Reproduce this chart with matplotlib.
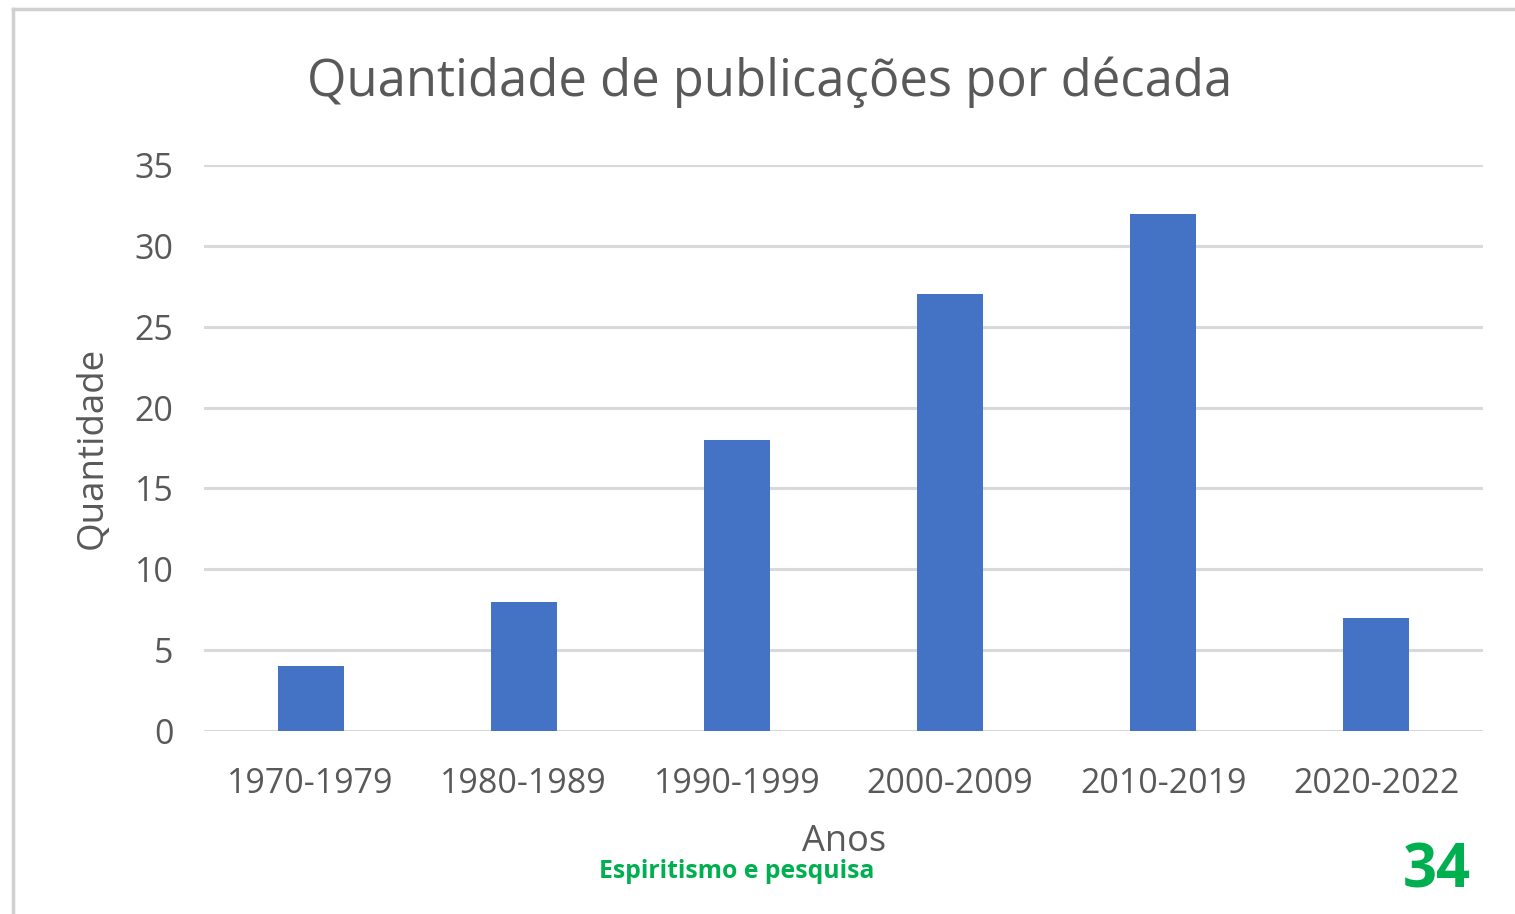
import matplotlib.pyplot as plt
from matplotlib.lines import Line2D

decadas = ['1970-1979', '1980-1989', '1990-1999', '2000-2009', '2010-2019', '2020-2022']
quantidade = [4, 8, 18, 27, 32, 7]
yticks = [0, 5, 10, 15, 20, 25, 30, 35]

plt.rcParams['font.family'] = ['Open Sans', 'DejaVu Sans']
cinza = '#595959'

W, H = 1515, 914
fig = plt.figure(figsize=(W / 100, H / 100), dpi=100)
ax = fig.add_axes([204 / W, 1 - 731 / H, (1483 - 204) / W, (731 - 165) / H])

x = range(len(decadas))
ax.bar(x, quantidade, width=0.31, color='#4472C4', zorder=3)
ax.set_xlim(-0.5, len(decadas) - 0.5)
ax.set_ylim(0, 35)
ax.set_yticks(yticks)
ax.set_xticks(list(x))
ax.set_xticklabels(decadas)
ax.grid(axis='y', color='#D9D9D9', linewidth=2.2, zorder=0)
for s in ax.spines.values():
    s.set_visible(False)
ax.tick_params(length=0, labelsize=24.5, colors=cinza)
ax.tick_params(axis='x', pad=26)
ax.tick_params(axis='y', pad=22)

fig.text(770 / W, 1 - 82 / H, 'Quantidade de publicações por década',
         ha='center', va='center', fontsize=36.5, color=cinza)
fig.text(93 / W, 1 - 448 / H, 'Quantidade', rotation=90, ha='center', va='center',
         fontsize=26.5, color=cinza)
fig.text(844 / W, 1 - 842 / H, 'Anos', ha='center', va='center', fontsize=26, color=cinza)

# rodape do slide
fig.text(737 / W, 1 - 872 / H, 'Espiritismo e pesquisa', ha='center', va='center',
         fontsize=17.8, fontweight='bold', color='#00B050')
fig.text(1437 / W, 1 - 872 / H, '34', ha='center', va='center',
         fontsize=43, fontweight='bold', color='#00B050')

# moldura
fig.add_artist(Line2D([13 / W, 13 / W], [0, 1 - 9 / H], color='#D0D0D0', linewidth=2.5))
fig.add_artist(Line2D([13 / W, 1], [1 - 9 / H, 1 - 9 / H], color='#D0D0D0', linewidth=2.5))

fig.savefig('out.png', dpi=100)
